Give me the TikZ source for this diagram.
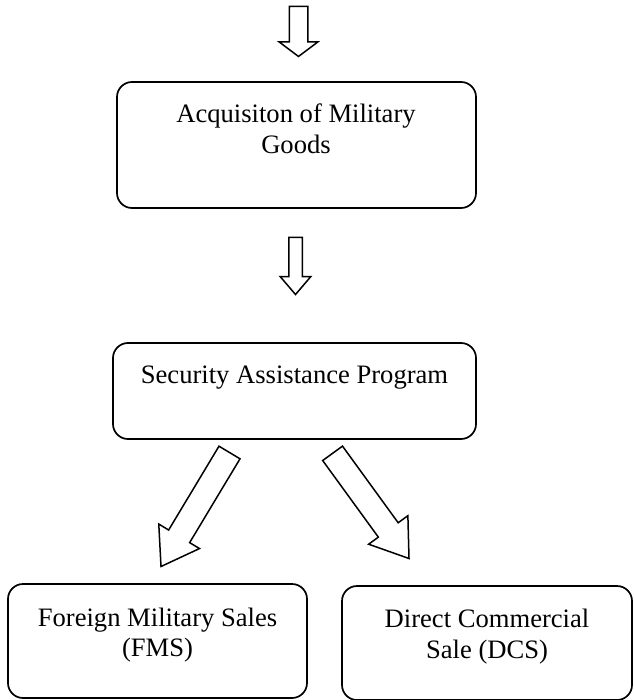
\documentclass[tikz,border=0pt]{standalone}
\usepackage{fontspec}
\setmainfont{Liberation Serif}
\usetikzlibrary{shapes.arrows}

\begin{document}
\begin{tikzpicture}[x=1pt,y=-1pt,
  box/.style={draw,line width=1.7pt,rounded corners=15pt,inner sep=0pt},
  txt/.style={align=center,inner sep=0pt,anchor=base,font=\fontsize{26.6}{30.5}\selectfont},
  blk/.style={single arrow,draw,line width=1.5pt,inner xsep=0pt,outer sep=0pt,anchor=tip,single arrow head indent=0pt}]
  \useasboundingbox (0,0) rectangle (633,700);

	\node[box,minimum width=359pt,minimum height=126pt] (nAcq) at (296.5,145) {};
	\node[box,minimum width=363pt,minimum height=96pt]  (nSap) at (294.5,391) {};
	\node[box,minimum width=299pt,minimum height=114pt] (nFms) at (157.5,641) {};
	\node[box,minimum width=290pt,minimum height=114pt] (nDcs) at (487,643) {};

	\node[txt] (tAcq) at (296,153.3) {Acquisiton of Military\\Goods};
	\node[txt] (tSap) at (294.5,383) {Security Assistance Program};
	\node[txt] (tFms) at (157.5,656.5) {Foreign Military Sales\\(FMS)};
	\node[txt] (tDcs) at (487,658) {Direct Commercial\\Sale (DCS)};

  % block arrows, placed by their tips
	\node[blk,rotate=-90,inner ysep=8.5pt,minimum height=50pt,minimum width=37pt,single arrow head extend=10pt,single arrow tip angle=106] (aTop) at (298.5,56.5) {};
	\node[blk,rotate=-90,inner ysep=6pt,minimum height=57pt,minimum width=29pt,single arrow head extend=8.5pt,single arrow tip angle=81] (aMid) at (295.5,294.5) {};
	\node[blk,rotate=239,inner ysep=11.5pt,minimum height=133pt,minimum width=46pt,single arrow head extend=11.5pt,single arrow tip angle=68] (aLeft) at (161,566.5) {};
	\node[blk,rotate=-54,inner ysep=11.5pt,minimum height=130pt,minimum width=47pt,single arrow head extend=12pt,single arrow tip angle=69] (aRight) at (409,558.5) {};
\end{tikzpicture}
\end{document}
